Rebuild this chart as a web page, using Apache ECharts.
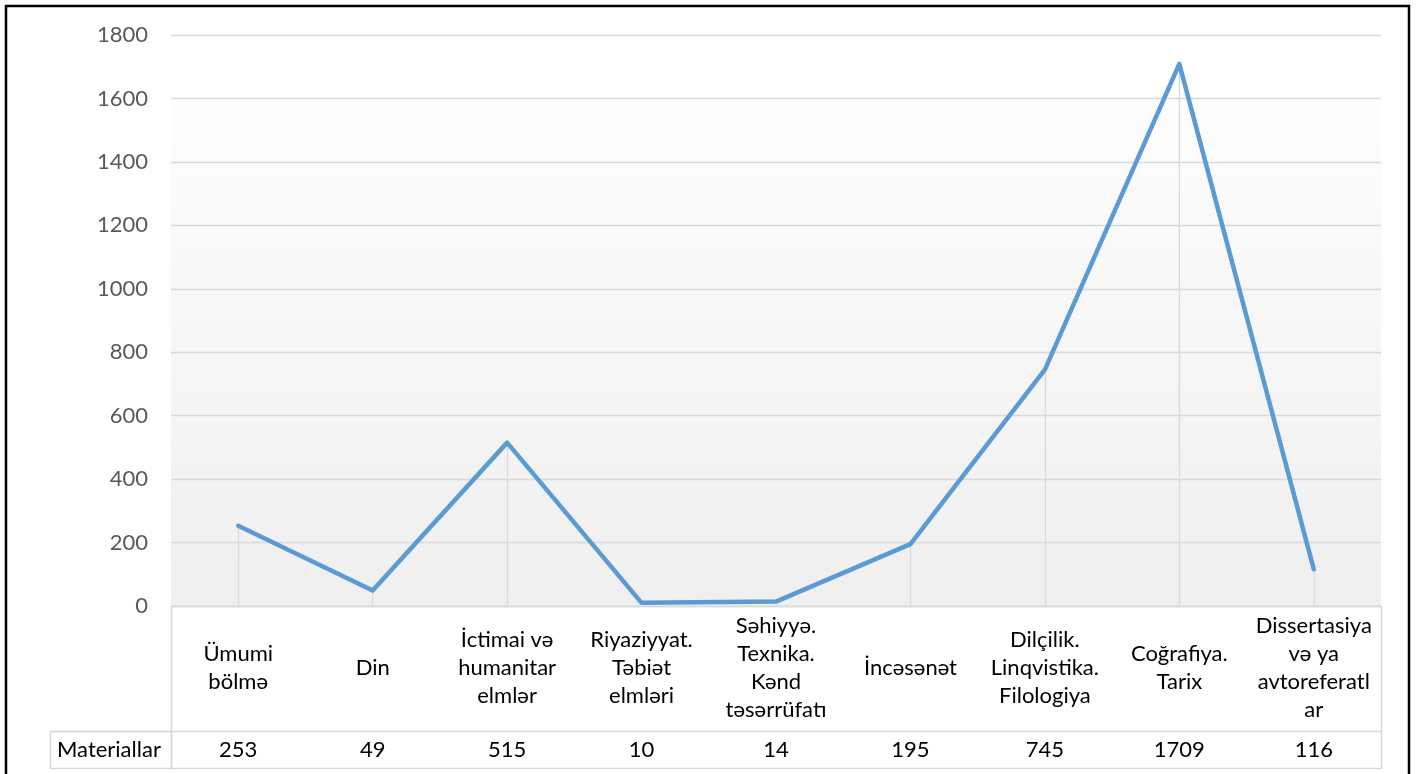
<!DOCTYPE html>
<html>
<head>
<meta charset="utf-8">
<script src="https://cdn.jsdelivr.net/npm/echarts@6/dist/echarts.min.js"></script>
<style>
  html, body { margin: 0; padding: 0; background: #fff; }
  #chart { width: 1416px; height: 774px; }
</style>
</head>
<body>
<div id="chart"></div>
<script>
// ---- data ----
const categories = [
  "Ümumi\nbölmə",
  "Din",
  "İctimai və\nhumanitar\nelmlər",
  "Riyaziyyat.\nTəbiət\nelmləri",
  "Səhiyyə.\nTexnika.\nKənd\ntəsərrüfatı",
  "İncəsənət",
  "Dilçilik.\nLinqvistika.\nFilologiya",
  "Coğrafiya.\nTarix",
  "Dissertasiya\nvə ya\navtoreferatl\nar"
];
const seriesName = "Materiallar";
const values = [253, 49, 515, 10, 14, 195, 745, 1709, 116];
const yTicks = { min: 0, max: 1800, interval: 200 };

// ---- chart ----
const FONT = "Lato, 'Open Sans', sans-serif";
const chart = echarts.init(document.getElementById('chart'), null, { renderer: 'canvas' });

const gridBox = { left: 171, right: 35, top: 35, bottom: 168 };

chart.setOption({
  animation: false,
  textStyle: { fontFamily: FONT },
  grid: [
    Object.assign({
      show: true,
      borderWidth: 0,
      backgroundColor: {
        type: 'linear', x: 0, y: 0, x2: 0, y2: 1,
        colorStops: [
          { offset: 0, color: '#ffffff' },
          { offset: 0.11, color: '#ffffff' },
          { offset: 0.12, color: '#fdfdfd' },
          { offset: 1, color: '#efefef' }
        ]
      }
    }, gridBox),
    Object.assign({ show: false }, gridBox)
  ],
  xAxis: [
    {
      gridIndex: 0,
      type: 'category',
      data: categories,
      boundaryGap: true,
      axisLine: { show: true, lineStyle: { color: '#d9d9d9', width: 1 } },
      axisTick: { show: false },
      splitLine: { show: false },
      axisLabel: {
        interval: 0,
        margin: 62,
        verticalAlign: 'middle',
        align: 'center',
        lineHeight: 28,
        fontSize: 22,
        color: '#000000',
        fontFamily: FONT
      }
    },
    {
      gridIndex: 1,
      type: 'category',
      data: categories,
      position: 'bottom',
      boundaryGap: true,
      axisLine: { show: false },
      axisTick: { show: false },
      splitLine: { show: false },
      axisLabel: {
        interval: 0,
        margin: 144,
        verticalAlign: 'middle',
        fontSize: 22,
        color: '#000000',
        fontFamily: FONT,
        formatter: (v, i) => String(values[i])
      }
    }
  ],
  yAxis: [
    {
      gridIndex: 0,
      type: 'value',
      min: yTicks.min, max: yTicks.max, interval: yTicks.interval,
      axisLine: { show: false },
      axisTick: { show: false },
      splitLine: { show: true, lineStyle: { color: '#d9d9d9', width: 1.3 } },
      axisLabel: { margin: 23, fontSize: 22, color: '#595959', fontFamily: FONT,
                   formatter: (v) => String(v) }
    },
    {
      gridIndex: 1,
      type: 'value',
      min: yTicks.min, max: yTicks.max,
      show: false
    }
  ],
  series: [
    {
      name: seriesName,
      type: 'line',
      xAxisIndex: 0,
      yAxisIndex: 0,
      data: values,
      showSymbol: false,
      symbol: 'none',
      lineStyle: { color: '#5b9bd5', width: 4.5, cap: 'round', join: 'round' },
      itemStyle: { color: '#5b9bd5' },
      z: 5,
      markLine: {
        silent: true,
        symbol: ['none', 'none'],
        label: { show: false },
        lineStyle: { color: '#d9d9d9', width: 1.3, type: 'solid' },
        emphasis: { disabled: true },
        data: values.map((v, i) => [{ coord: [i, v] }, { coord: [i, 0] }])
      }
    }
  ],
  graphic: [
    // data table borders
    { type: 'rect', z: 50, silent: true,
      shape: { x: 171.5, y: 606.5, width: 1210, height: 162 },
      style: { fill: 'none', stroke: '#d9d9d9', lineWidth: 1.5 } },
    { type: 'line', z: 50, silent: true,
      shape: { x1: 50.5, y1: 731.5, x2: 1381.5, y2: 731.5 },
      style: { stroke: '#d9d9d9', lineWidth: 1.5 } },
    { type: 'rect', z: 50, silent: true,
      shape: { x: 50.5, y: 731.5, width: 121, height: 37 },
      style: { fill: 'none', stroke: '#d9d9d9', lineWidth: 1.5 } },
    { type: 'text', z: 50, silent: true,
      style: { x: 57, y: 750, text: seriesName, fill: '#000000', font: '22px ' + FONT,
               textVerticalAlign: 'middle', verticalAlign: 'middle' } },
    // outer chart border
    { type: 'rect', z: 60, silent: true,
      shape: { x: 6, y: 6, width: 1403, height: 790 },
      style: { fill: 'none', stroke: '#000000', lineWidth: 2.5 } }
  ]
});
</script>
</body>
</html>
